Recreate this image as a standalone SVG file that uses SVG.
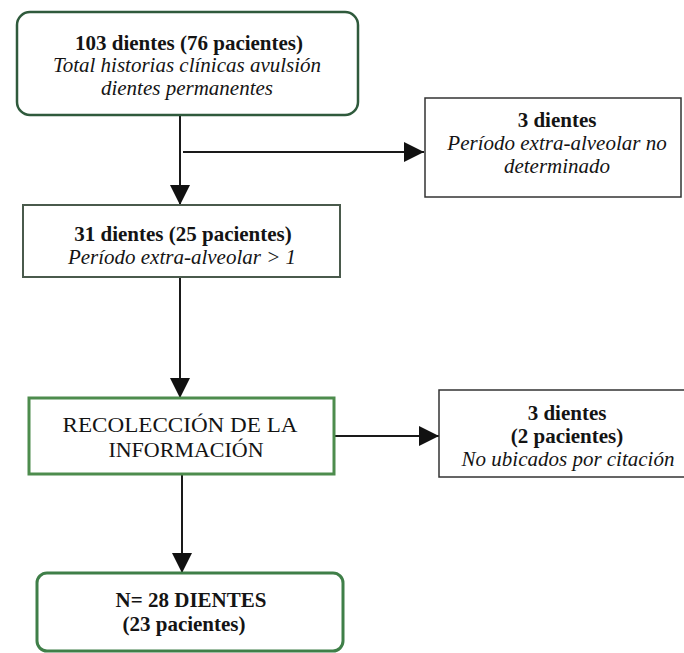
<svg xmlns="http://www.w3.org/2000/svg" width="684" height="653" viewBox="0 0 684 653">
<defs>
<marker id="ah" markerUnits="userSpaceOnUse" markerWidth="20" markerHeight="20" refX="20" refY="10" orient="auto">
<path d="M0,0 L20,10 L0,20 Z" fill="#111"/>
</marker>
<style>
text{fill:#141414;text-anchor:middle;font-size:21px}
.b{font-weight:bold}
.i{font-style:italic}
.c{stroke:#1a1a1a;stroke-width:2;fill:none;marker-end:url(#ah)}
</style>
</defs>
<rect width="684" height="653" fill="#fff"/>
<g id="connectors">
<line class="c" x1="180" y1="115" x2="180" y2="205"/>
<line class="c" x1="183" y1="152" x2="424" y2="152"/>
<line class="c" x1="180" y1="277" x2="180" y2="398"/>
<line class="c" x1="334" y1="436" x2="439" y2="436"/>
<line class="c" x1="182" y1="474" x2="182" y2="573"/>
</g>
<g font-family="'Liberation Serif', 'DejaVu Serif', serif">
<g id="n1">
<rect x="17" y="12" width="341" height="103" rx="13" fill="#fff" stroke="#2f5a3c" stroke-width="2.5"/>
<text x="189" y="50" class="b">103 dientes (76 pacientes)</text>
<text x="187" y="72" class="i">Total historias clínicas avulsión</text>
<text x="187" y="95" class="i">dientes permanentes</text>
</g>
<g id="n2">
<rect x="425" y="98" width="256" height="99" fill="#fff" stroke="#333" stroke-width="1.5"/>
<text x="557" y="127" class="b">3 dientes</text>
<text x="557" y="150" class="i">Período extra-alveolar no</text>
<text x="557" y="173" class="i">determinado</text>
</g>
<g id="n3">
<rect x="23" y="205" width="317" height="72" fill="#fff" stroke="#4a5a4c" stroke-width="2"/>
<text x="183" y="241" class="b">31 dientes (25 pacientes)</text>
<text x="182" y="264" class="i">Período extra-alveolar &gt; 1</text>
</g>
<g id="n4">
<rect x="29" y="398" width="305" height="76" fill="#fff" stroke="#4d8c4d" stroke-width="3"/>
<text x="180" y="432" style="font-size:22px" textLength="235" lengthAdjust="spacingAndGlyphs">RECOLECCIÓN DE LA</text>
<text x="186" y="457" style="font-size:22px">INFORMACIÓN</text>
</g>
<g id="n5">
<rect x="439" y="390" width="260" height="87" fill="#fff" stroke="#333" stroke-width="1.5"/>
<text x="567" y="420" class="b">3 dientes</text>
<text x="567" y="443" class="b">(2 pacientes)</text>
<text x="568" y="466" class="i">No ubicados por citación</text>
</g>
<g id="n6">
<rect x="37" y="573" width="306" height="78" rx="10" fill="#fff" stroke="#3f7f48" stroke-width="3"/>
<text x="191" y="607" class="b">N= 28 DIENTES</text>
<text x="184" y="631" class="b">(23 pacientes)</text>
</g>
</g>
</svg>
